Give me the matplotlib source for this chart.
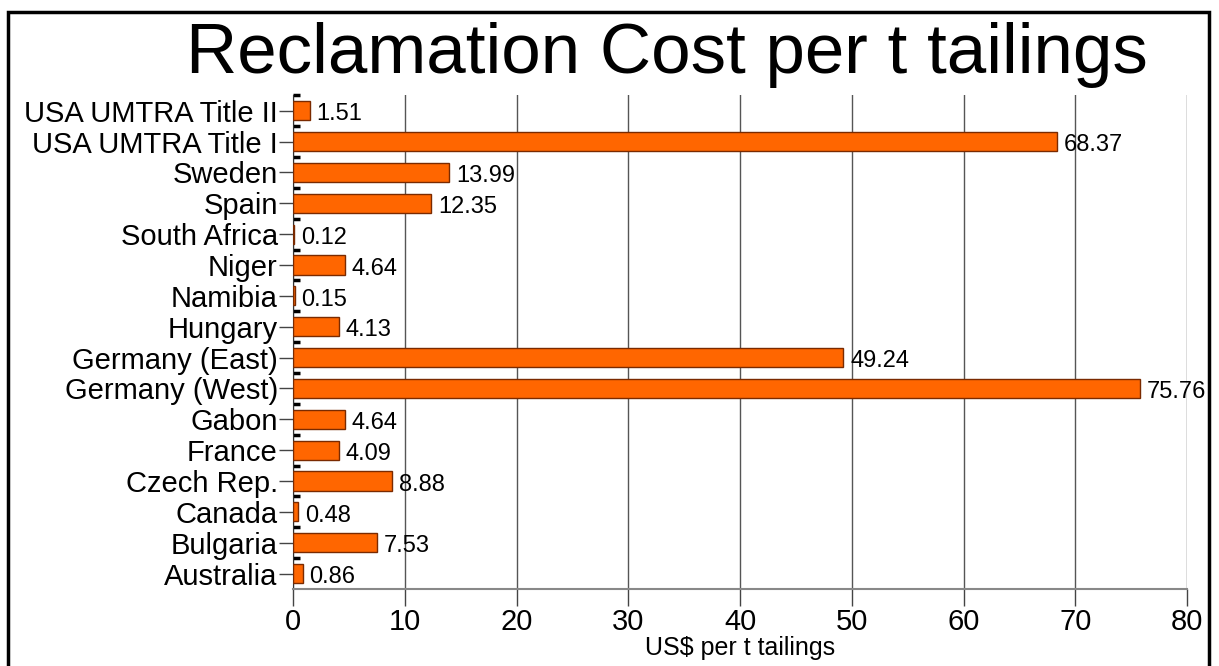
import matplotlib.pyplot as plt
import numpy as np
from matplotlib.patches import Rectangle

# data, bottom to top as drawn
countries = ['Australia', 'Bulgaria', 'Canada', 'Czech Rep.', 'France', 'Gabon',
             'Germany (West)', 'Germany (East)', 'Hungary', 'Namibia', 'Niger',
             'South Africa', 'Spain', 'Sweden', 'USA UMTRA Title I',
             'USA UMTRA Title II']
cost = [0.86, 7.53, 0.48, 8.88, 4.09, 4.64, 75.76, 49.24, 4.13, 0.15, 4.64,
        0.12, 12.35, 13.99, 68.37, 1.51]
xticks = [0, 10, 20, 30, 40, 50, 60, 70, 80]

plt.rcParams['font.family'] = ['Liberation Sans', 'DejaVu Sans']

fig = plt.figure(figsize=(12.19, 6.66), dpi=100)
ax = fig.add_axes([0.2404, 0.1156, 0.9738 - 0.2404, 0.857 - 0.1156])

y = np.arange(len(countries))
ax.barh(y, cost, height=0.62, color='#ff6600', edgecolor='#7a2a00', linewidth=1.0, zorder=3)

for yi, v in zip(y, cost):
    ax.text(v + 0.6, yi - 0.12, f'{v:.2f}', va='center', ha='left', fontsize=17, zorder=4)

ax.set_xlim(0, 80)
ax.set_ylim(-0.5, len(countries) - 0.5)
ax.set_xticks(xticks)
ax.set_yticks(y)
ax.set_yticklabels(countries, fontsize=21)
ax.tick_params(axis='x', labelsize=21, length=12, width=1, color='#444444', pad=2)
ax.tick_params(axis='y', length=10, width=1, color='#444444', pad=1)
ax.set_yticks(y + 0.5, minor=True)
ax.tick_params(axis='y', which='minor', direction='in', length=5, width=2.5, color='black')
ax.xaxis.grid(True, color='#555555', linewidth=1.0, zorder=0)

for s in ['top', 'right']:
    ax.spines[s].set_visible(False)
ax.spines['left'].set_color('#333333')
ax.spines['bottom'].set_color('#888888')
ax.spines['bottom'].set_linewidth(1.5)

ax.set_xlabel('US$ per t tailings', fontsize=18, labelpad=0)
fig.text(0.547, 0.918, 'Reclamation Cost per t tailings', fontsize=51,
         ha='center', va='center')

fig.patches.append(Rectangle((8 / 1219, -0.05), (1209 - 8) / 1219, 1.05 - 12 / 666,
                             transform=fig.transFigure, fill=False,
                             edgecolor='black', linewidth=2.5))

fig.savefig('out.png', dpi=100)
